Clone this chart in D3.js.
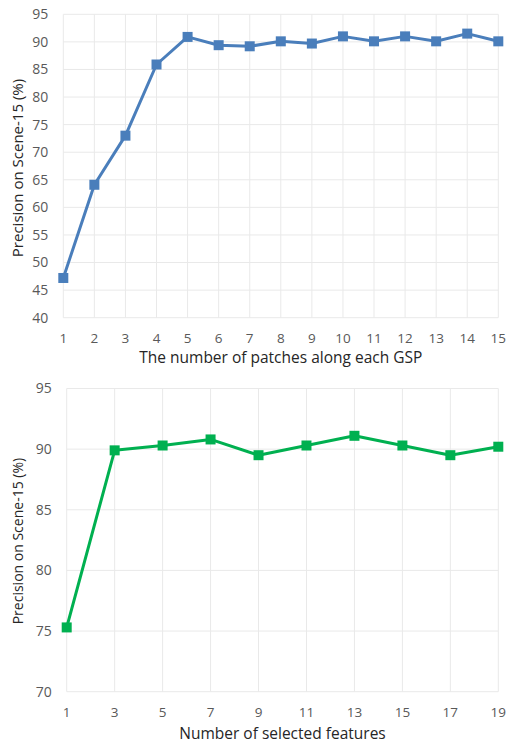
<!DOCTYPE html>
<html>
<head>
<meta charset="utf-8">
<script src="https://cdn.jsdelivr.net/npm/d3@7"></script>
<style>
  body { margin: 0; background: #fff; }
  svg text { font-family: "Open Sans", sans-serif; }
</style>
</head>
<body>
<div id="chart"></div>
<script>
// top chart: patches along each GSP
var patches = [1, 2, 3, 4, 5, 6, 7, 8, 9, 10, 11, 12, 13, 14, 15];
var patchPrecision = [47.2, 64.1, 73.0, 85.9, 90.9, 89.4, 89.2, 90.1, 89.7, 91.0, 90.1, 91.0, 90.1, 91.5, 90.1];
var topYTicks = [40, 45, 50, 55, 60, 65, 70, 75, 80, 85, 90, 95];

// bottom chart: number of selected features
var features = [1, 3, 5, 7, 9, 11, 13, 15, 17, 19];
var featurePrecision = [75.3, 89.9, 90.3, 90.8, 89.5, 90.3, 91.1, 90.3, 89.5, 90.2];
var bottomYTicks = [70, 75, 80, 85, 90, 95];

var W = 507, H = 745;

var svg = d3.select("#chart")
  .append("svg")
    .attr("width", W)
    .attr("height", H);

function drawPanel(opts) {
  var x = d3.scaleLinear()
    .domain(d3.extent(opts.xs))
    .range([opts.left, opts.right]);
  var y = d3.scaleLinear()
    .domain(d3.extent(opts.yTicks))
    .range([opts.bottom, opts.top]);

  var g = svg.append("g");

  // gridlines
  g.append("g").selectAll("line.h")
    .data(opts.yTicks)
    .enter().append("line")
      .attr("x1", opts.left).attr("x2", opts.right)
      .attr("y1", function(d) { return y(d); })
      .attr("y2", function(d) { return y(d); })
      .attr("stroke", "#e9e9e9").attr("stroke-width", 1);
  g.append("g").selectAll("line.v")
    .data(opts.xs)
    .enter().append("line")
      .attr("x1", function(d) { return x(d); })
      .attr("x2", function(d) { return x(d); })
      .attr("y1", opts.top).attr("y2", opts.bottom)
      .attr("stroke", "#e9e9e9").attr("stroke-width", 1);

  // y tick labels
  g.append("g").selectAll("text")
    .data(opts.yTicks)
    .enter().append("text")
      .attr("x", opts.left - opts.yLabelGap)
      .attr("y", function(d) { return y(d); })
      .attr("dy", "0.35em")
      .attr("text-anchor", "end")
      .attr("font-size", 14)
      .attr("fill", "#595959")
      .text(function(d) { return d; });

  // x tick labels
  g.append("g").selectAll("text")
    .data(opts.xs)
    .enter().append("text")
      .attr("x", function(d) { return x(d); })
      .attr("y", opts.bottom + opts.xLabelGap)
      .attr("dy", "0.35em")
      .attr("text-anchor", "middle")
      .attr("font-size", 13.5)
      .attr("fill", "#595959")
      .text(function(d) { return d; });

  // axis titles
  g.append("text")
    .attr("x", (opts.left + opts.right) / 2)
    .attr("y", opts.xTitleY)
    .attr("dy", "0.35em")
    .attr("text-anchor", "middle")
    .attr("font-size", 15.5)
    .attr("fill", "#262626")
    .text(opts.xTitle);
  g.append("text")
    .attr("transform", "translate(18," + ((opts.top + opts.bottom) / 2 + opts.yTitleShift) + ") rotate(-90)")
    .attr("dy", "0.35em")
    .attr("text-anchor", "middle")
    .attr("font-size", opts.yTitleSize)
    .attr("fill", "#262626")
    .text("Precision on Scene-15 (%)");

  // the line
  g.append("path")
    .datum(opts.ys)
    .attr("fill", "none")
    .attr("stroke", opts.color)
    .attr("stroke-width", 3)
    .attr("stroke-linejoin", "round")
    .attr("d", d3.line()
      .x(function(d, i) { return x(opts.xs[i]); })
      .y(function(d) { return y(d); }));

  // square markers
  g.append("g").selectAll("rect")
    .data(opts.ys)
    .enter().append("rect")
      .attr("x", function(d, i) { return x(opts.xs[i]) - 5; })
      .attr("y", function(d) { return y(d) - 5; })
      .attr("width", 10).attr("height", 10)
      .attr("fill", opts.color);
}

drawPanel({
  xs: patches, ys: patchPrecision, yTicks: topYTicks,
  left: 63.3, right: 498.3, top: 14.3, bottom: 317.7,
  yLabelGap: 15, xLabelGap: 20.5, xTitleY: 358,
  yTitleSize: 15, yTitleShift: 2,
  xTitle: "The number of patches along each GSP",
  color: "#4a7ebb"
});

drawPanel({
  xs: features, ys: featurePrecision, yTicks: bottomYTicks,
  left: 66.7, right: 498.3, top: 388.5, bottom: 691.7,
  yLabelGap: 15, xLabelGap: 20.5, xTitleY: 733.5,
  yTitleSize: 14, yTitleShift: 1,
  xTitle: "Number of selected features",
  color: "#00b050"
});
</script>
</body>
</html>
